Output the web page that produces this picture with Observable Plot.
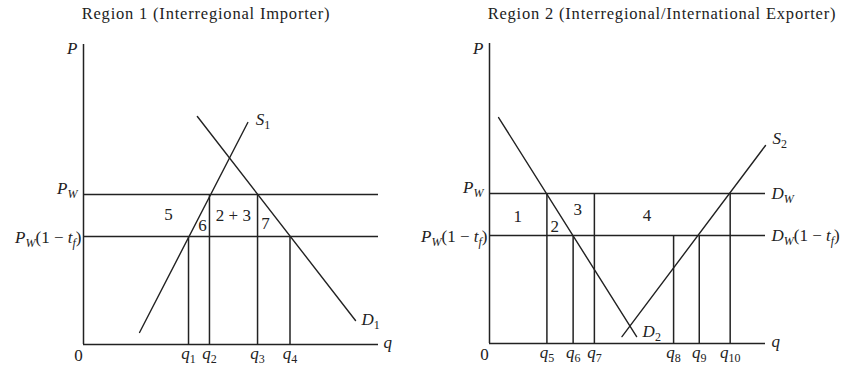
<!DOCTYPE html>
<html>
<head>
<meta charset="utf-8">
<script src="https://cdn.jsdelivr.net/npm/d3@7"></script>
<script src="https://cdn.jsdelivr.net/npm/@observablehq/plot@0.6"></script>
<style>
  html, body { margin: 0; padding: 0; background: #fff; }
  #wrap { position: relative; width: 847px; height: 365px; overflow: hidden; font-family: "Liberation Serif", "DejaVu Serif", serif; color: #222; }
  .title { position: absolute; top: 4px; width: 400px; text-align: center; font-size: 16.5px; line-height: 20px; letter-spacing: 0.8px; white-space: nowrap; }
  #left { position: absolute; left: 0; top: 28px; }
  #right { position: absolute; left: 403px; top: 28px; }
</style>
</head>
<body>
<div id="wrap">
  <div class="title" style="left:6px">Region 1 (Interregional Importer)</div>
  <div class="title" style="left:462px">Region 2 (Interregional/International Exporter)</div>
  <div id="left"></div>
  <div id="right"></div>
</div>
<script>
// ---------- Region 1 (importer) ----------
const r1Title = "Region 1 (Interregional Importer)";
const r1Prices = [5.0, 3.6];                       // P_W, P_W(1 − t_f)
const r1PriceLabels = ["P_W", "P_W(1 − t_f)"];
const r1Q = [3.56, 4.27, 5.9, 7.0];                // q1..q4
const r1QTop = [3.6, 5.0, 5.0, 3.6];               // price each q line rises to
const r1QLabels = ["q_1", "q_2", "q_3", "q_4"];
const r1SupplyQ = [1.9, 5.57];
const r1SupplyP = [0.4, 7.4];
const r1DemandQ = [3.86, 9.22];
const r1DemandP = [7.6, 0.8];
const r1AreaLabels = ["5", "6", "2 + 3", "7"];
const r1AreaQ = [2.88, 4.03, 5.08, 6.17];
const r1AreaP = [4.33, 3.97, 4.3, 4.03];

// ---------- Region 2 (exporter) ----------
const r2Title = "Region 2 (Interregional/International Exporter)";
const r2Prices = [5.0, 3.6];
const r2PriceLabels = ["P_W", "P_W(1 − t_f)"];
const r2RightLabels = ["D_W", "D_W(1 − t_f)"];
const r2Q = [2.08, 3.03, 3.8, 6.67, 7.6, 8.72];   // q5..q10
const r2QTop = [5.0, 3.6, 5.0, 3.6, 3.6, 5.0];
const r2QLabels = ["q_5", "q_6", "q_7", "q_8", "q_9", "q_{10}"];
const r2DemandQ = [0.33, 5.33];
const r2DemandP = [7.53, 0.23];
const r2SupplyQ = [4.8, 10.0];
const r2SupplyP = [0.23, 6.6];
const r2AreaLabels = ["1", "2", "3", "4"];
const r2AreaQ = [1.02, 2.36, 3.2, 5.71];
const r2AreaP = [4.23, 3.9, 4.47, 4.27];

const INK = "#222";
const FONT = "Liberation Serif";
const FS = 17;

function mathify(svg) {
  d3.select(svg).selectAll("text").each(function () {
    const s = this.textContent;
    const segs = [];
    let i = 0;
    while (i < s.length) {
      let sub = false, chunk;
      if (s[i] === "_") {
        sub = true; i++;
        if (s[i] === "{") { const j = s.indexOf("}", i); chunk = s.slice(i + 1, j); i = j + 1; }
        else { chunk = s[i]; i++; }
      } else { chunk = s[i]; i++; }
      for (const c of chunk) {
        const it = /[A-Za-z]/.test(c);
        const last = segs[segs.length - 1];
        if (last && last.sub === sub && last.it === it) last.t += c;
        else segs.push({t: c, sub, it});
      }
    }
    if (!segs.some(d => d.sub || d.it)) return;
    const el = d3.select(this);
    el.text(null);
    let cur = 0;
    for (const sg of segs) {
      const ts = el.append("tspan").text(sg.t).attr("font-style", sg.it ? "italic" : "normal");
      const target = sg.sub ? 4 : 0;
      if (target !== cur) ts.attr("dy", target - cur);
      cur = target;
      if (sg.sub) ts.attr("font-size", "12px");
    }
  });
  return svg;
}

const txt = (data, opts) => Plot.text(data, {fontFamily: FONT, fontSize: FS, fill: INK, ...opts});
const seg = (qs, ps) => qs.map((q, i) => ({q, p: ps[i]}));

// ----- left plot -----
const leftSvg = Plot.plot({
  width: 423, height: 337,
  marginLeft: 83, marginRight: 45, marginTop: 16, marginBottom: 21,
  x: {domain: [0, 10], axis: null},
  y: {domain: [0, 10], axis: null},
  marks: [
    Plot.ruleX([0], {y1: 0, y2: 10, stroke: INK, strokeWidth: 1.5}),
    Plot.ruleY([0], {x1: 0, x2: 10, stroke: INK, strokeWidth: 1.5}),
    Plot.ruleY(r1Prices, {x1: 0, x2: 10, stroke: INK, strokeWidth: 1.3}),
    Plot.ruleX(r1Q, {x: d => d, y1: 0, y2: (d, i) => r1QTop[i], stroke: INK, strokeWidth: 1.5}),
    Plot.line(seg(r1SupplyQ, r1SupplyP), {x: "q", y: "p", stroke: INK, strokeWidth: 1.4}),
    Plot.line(seg(r1DemandQ, r1DemandP), {x: "q", y: "p", stroke: INK, strokeWidth: 1.4}),
    txt(["P"], {x: 0, y: 10, dx: -6, dy: 4, textAnchor: "end"}),
    txt(["0"], {x: 0, y: 0, dx: -5, dy: 11, textAnchor: "middle"}),
    txt(["q"], {x: 10, y: 0, dx: 5, dy: -2, textAnchor: "start"}),
    txt(r1QLabels, {x: (d, i) => r1Q[i], y: 0, dy: 9, textAnchor: "middle"}),
    txt(r1PriceLabels.slice(0, 1), {x: 0, y: r1Prices[0], dx: -6, dy: -6, textAnchor: "end"}),
    txt(r1PriceLabels.slice(1), {x: 0, y: r1Prices[1], dx: -2, dy: 1, textAnchor: "end"}),
    txt(r1AreaLabels, {x: (d, i) => r1AreaQ[i], y: (d, i) => r1AreaP[i]}),
    txt(["S_1"], {x: r1SupplyQ[1], y: r1SupplyP[1], dx: 8, dy: -3, textAnchor: "start"}),
    txt(["D_1"], {x: r1DemandQ[1], y: r1DemandP[1], dx: 6, dy: -1, textAnchor: "start"})
  ]
});
document.getElementById("left").append(mathify(leftSvg));

// ----- right plot -----
const rightSvg = Plot.plot({
  width: 444, height: 337,
  marginLeft: 86, marginRight: 82, marginTop: 15, marginBottom: 22,
  x: {domain: [0, 10], axis: null},
  y: {domain: [0, 10], axis: null},
  marks: [
    Plot.ruleX([0], {y1: 0, y2: 10, stroke: INK, strokeWidth: 1.5}),
    Plot.ruleY([0], {x1: 0, x2: 10, stroke: INK, strokeWidth: 1.5}),
    Plot.ruleY(r2Prices, {x1: 0, x2: 10, stroke: INK, strokeWidth: 1.3}),
    Plot.ruleX(r2Q, {x: d => d, y1: 0, y2: (d, i) => r2QTop[i], stroke: INK, strokeWidth: 1.5}),
    Plot.line(seg(r2DemandQ, r2DemandP), {x: "q", y: "p", stroke: INK, strokeWidth: 1.4}),
    Plot.line(seg(r2SupplyQ, r2SupplyP), {x: "q", y: "p", stroke: INK, strokeWidth: 1.4}),
    txt(["P"], {x: 0, y: 10, dx: -6, dy: 5, textAnchor: "end"}),
    txt(["0"], {x: 0, y: 0, dx: -5, dy: 11, textAnchor: "middle"}),
    txt(["q"], {x: 10, y: 0, dx: 6, dy: -2, textAnchor: "start"}),
    txt(r2QLabels, {x: (d, i) => r2Q[i], y: 0, dy: 9, textAnchor: "middle"}),
    txt(r2PriceLabels.slice(0, 1), {x: 0, y: r2Prices[0], dx: -6, dy: -6, textAnchor: "end"}),
    txt(r2PriceLabels.slice(1), {x: 0, y: r2Prices[1], dx: -2, dy: 1, textAnchor: "end"}),
    txt(r2RightLabels, {x: 10, y: (d, i) => r2Prices[i], dx: 6, dy: 0, textAnchor: "start"}),
    txt(r2AreaLabels, {x: (d, i) => r2AreaQ[i], y: (d, i) => r2AreaP[i]}),
    txt(["S_2"], {x: r2SupplyQ[1], y: r2SupplyP[1], dx: 7, dy: -7, textAnchor: "start"}),
    txt(["D_2"], {x: r2DemandQ[1], y: r2DemandP[1], dx: 6, dy: -5, textAnchor: "start"})
  ]
});
document.getElementById("right").append(mathify(rightSvg));
</script>
</body>
</html>
